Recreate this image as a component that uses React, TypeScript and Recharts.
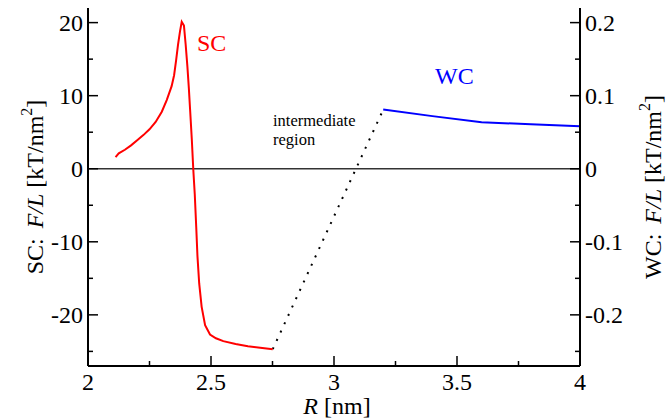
import { LineChart, Line, XAxis, YAxis, ReferenceLine } from "recharts";

// SC branch (left axis)
const scR = [2.112, 2.125, 2.15, 2.175, 2.2, 2.225, 2.25, 2.275, 2.3, 2.32, 2.34, 2.35, 2.358, 2.366, 2.374, 2.381, 2.39, 2.397, 2.404, 2.41, 2.415, 2.422, 2.428, 2.434, 2.44, 2.445, 2.452, 2.462, 2.476, 2.496, 2.52, 2.55, 2.6, 2.65, 2.7, 2.751];
const scF = [1.6, 2.1, 2.6, 3.2, 3.9, 4.6, 5.4, 6.4, 7.8, 9.4, 11.3, 12.8, 14.8, 17.0, 18.8, 20.1, 19.6, 17.0, 14.0, 11.0, 8.1, 4.0, -0.1, -3.5, -8.0, -12.0, -15.7, -18.9, -21.4, -22.7, -23.2, -23.6, -24.0, -24.3, -24.5, -24.7];

// WC branch (right axis)
const wcR = [3.2, 3.4, 3.6, 3.8, 4.0];
const wcF = [0.081, 0.072, 0.0635, 0.061, 0.058];

// intermediate region (dotted)
const midR = [2.751, 3.2];
const midF = [-24.7, 8.08];

const xTicks = [2, 2.25, 2.5, 2.75, 3, 3.25, 3.5, 3.75, 4];
const leftTicks = [-25, -20, -15, -10, -5, 0, 5, 10, 15, 20];
const rightTicks = [-0.25, -0.2, -0.15, -0.1, -0.05, 0, 0.05, 0.1, 0.15, 0.2];

const sc = scR.map((x, i) => ({ x, y: scF[i] }));
const wc = wcR.map((x, i) => ({ x, y: wcF[i] }));
const mid = midR.map((x, i) => ({ x, y: midF[i] }));

const L = 88;
const R = 580;
const T = 8;
const B = 366;
const FONT = "Liberation Serif, Times New Roman, serif";
const FS = 24;

const isMajor = (v: number, step: number) => Math.abs(v / step - Math.round(v / step)) < 1e-6;

const fmtX = (v: number) => String(v);
const fmtRight = (v: number) => (Math.abs(v) < 1e-9 ? "0" : String(v));

function LeftTick(props: any) {
  const { y, payload } = props;
  const major = isMajor(payload.value, 10);
  return (
    <g>
      <line x1={L} x2={L + (major ? 10 : 5)} y1={y} y2={y} stroke="#000" strokeWidth={1.5} />
      {major && (
        <text x={L - 5} y={y + 8} textAnchor="end" style={{ fontFamily: FONT, fontSize: FS }} fill="#000">
          {String(payload.value)}
        </text>
      )}
    </g>
  );
}

function RightTick(props: any) {
  const { y, payload } = props;
  const major = isMajor(payload.value, 0.1);
  return (
    <g>
      <line x1={R} x2={R - (major ? 10 : 5)} y1={y} y2={y} stroke="#000" strokeWidth={1.5} />
      {major && (
        <text x={R + 5} y={y + 8} textAnchor="start" style={{ fontFamily: FONT, fontSize: FS }} fill="#000">
          {fmtRight(payload.value)}
        </text>
      )}
    </g>
  );
}

function BottomTick(props: any) {
  const { x, payload } = props;
  const major = isMajor(payload.value, 0.5);
  return (
    <g>
      <line x1={x} x2={x} y1={B} y2={B - (major ? 10 : 5)} stroke="#000" strokeWidth={1.5} />
      {major && (
        <text x={x} y={390} textAnchor="middle" style={{ fontFamily: FONT, fontSize: FS }} fill="#000">
          {fmtX(payload.value)}
        </text>
      )}
    </g>
  );
}

function TopTick(props: any) {
  const { x, payload } = props;
  const major = isMajor(payload.value, 0.5);
  return <line x1={x} x2={x} y1={T} y2={T + (major ? 10 : 5)} stroke="#000" strokeWidth={1.5} />;
}

export default function App() {
  const axisLine = { stroke: "#000", strokeWidth: 2 };
  const txt = { fontFamily: FONT, fontSize: FS };
  return (
    <div style={{ position: "absolute", left: 0, top: 0, width: 666, height: 419, background: "#fff" }}>
      <LineChart width={666} height={419} margin={{ top: T, right: 0, bottom: 0, left: 0 }}>
        <XAxis
          xAxisId="bottom"
          type="number"
          dataKey="x"
          domain={[2, 4]}
          ticks={xTicks}
          allowDataOverflow
          height={53}
          axisLine={axisLine}
          tickLine={false}
          tick={<BottomTick />}
          interval={0}
        />
        <XAxis
          xAxisId="top"
          orientation="top"
          type="number"
          dataKey="x"
          domain={[2, 4]}
          ticks={xTicks}
          allowDataOverflow
          height={0}
          axisLine={axisLine}
          tickLine={false}
          tick={<TopTick />}
          interval={0}
        />
        <YAxis
          yAxisId="left"
          type="number"
          domain={[-27, 22]}
          ticks={leftTicks}
          allowDataOverflow
          width={L}
          axisLine={axisLine}
          tickLine={false}
          tick={<LeftTick />}
          interval={0}
        />
        <YAxis
          yAxisId="right"
          orientation="right"
          type="number"
          domain={[-0.27, 0.22]}
          ticks={rightTicks}
          allowDataOverflow
          width={666 - R}
          axisLine={axisLine}
          tickLine={false}
          tick={<RightTick />}
          interval={0}
        />
        <ReferenceLine xAxisId="bottom" yAxisId="left" y={0} stroke="#333" strokeWidth={1.5} />
        <Line
          xAxisId="bottom"
          yAxisId="left"
          data={mid}
          dataKey="y"
          stroke="#000"
          strokeWidth={2}
          strokeDasharray="2 7.2"
          dot={false}
          isAnimationActive={false}
        />
        <Line
          xAxisId="bottom"
          yAxisId="left"
          data={sc}
          dataKey="y"
          stroke="#ff0000"
          strokeWidth={2}
          dot={false}
          isAnimationActive={false}
        />
        <Line
          xAxisId="bottom"
          yAxisId="right"
          data={wc}
          dataKey="y"
          stroke="#0000ff"
          strokeWidth={2}
          dot={false}
          isAnimationActive={false}
        />
        <text x={197} y={51} style={txt} fill="#ff0000">SC</text>
        <text x={435} y={84} style={txt} fill="#0000ff">WC</text>
        <text x={273} y={126} style={{ fontFamily: FONT, fontSize: 16.5 }} fill="#000">intermediate</text>
        <text x={273} y={144.5} style={{ fontFamily: FONT, fontSize: 16.5 }} fill="#000">region</text>
        <text x={337} y={414} textAnchor="middle" style={txt} fill="#000">
          <tspan fontStyle="italic">R</tspan>
          <tspan> [nm]</tspan>
        </text>
        <text transform={`translate(43, ${(T + B) / 2}) rotate(-90)`} textAnchor="middle" style={txt} fill="#000">
          <tspan>SC:</tspan>
          <tspan dx={10} fontStyle="italic">F/L</tspan>
          <tspan dx={6}>[kT/nm</tspan>
          <tspan dy={-11} fontSize={16}>2</tspan>
          <tspan dy={11}>]</tspan>
        </text>
        <text transform={`translate(661, ${(T + B) / 2}) rotate(-90)`} textAnchor="middle" style={txt} fill="#000">
          <tspan>WC:</tspan>
          <tspan dx={10} fontStyle="italic">F/L</tspan>
          <tspan dx={6}>[kT/nm</tspan>
          <tspan dy={-11} fontSize={16}>2</tspan>
          <tspan dy={11}>]</tspan>
        </text>
      </LineChart>
    </div>
  );
}
